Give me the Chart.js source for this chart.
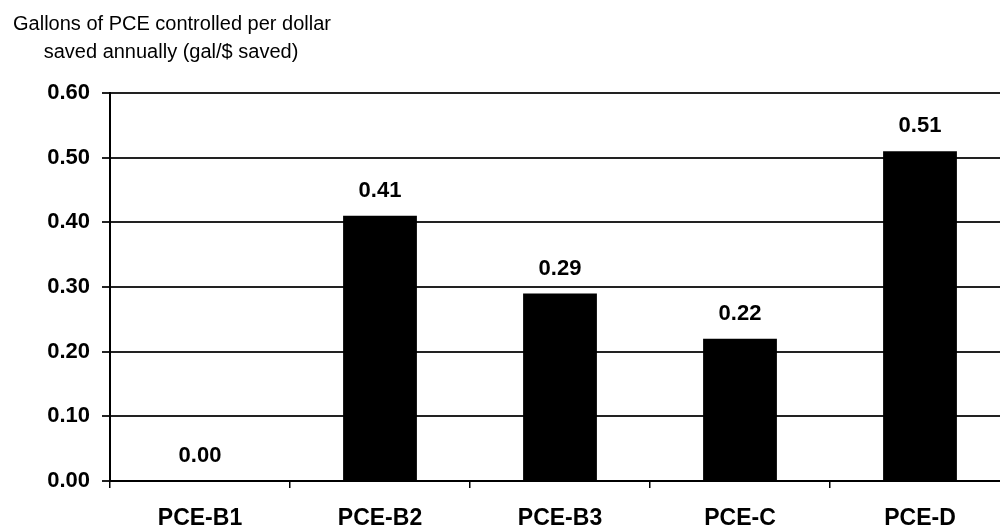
<!DOCTYPE html>
<html>
<head>
<meta charset="utf-8">
<script src="https://cdn.jsdelivr.net/npm/chart.js@4.4.1/dist/chart.umd.min.js"></script>
<style>
  html, body { margin: 0; padding: 0; background: #fff; overflow: hidden; }
  #wrap { width: 1000px; height: 529px; overflow: hidden; position: relative; }
  #box { width: 1010px; height: 529px; position: absolute; left: 0; top: 0; }
</style>
</head>
<body>
<div id="wrap"><div id="box"><canvas id="c"></canvas></div></div>
<script>
// Gallons of PCE controlled per dollar saved, by option
const categories = ['PCE-B1', 'PCE-B2', 'PCE-B3', 'PCE-C', 'PCE-D'];
const gallonsPerDollar = [0.00, 0.41, 0.29, 0.22, 0.51];
const yTicks = [0.00, 0.10, 0.20, 0.30, 0.40, 0.50, 0.60];
const titleLines = ['Gallons of PCE controlled per dollar', 'saved annually (gal/$ saved)'];

const FONT = '"Liberation Sans", Arial, Helvetica, sans-serif';

// Two-line axis caption at the top-left
const captionPlugin = {
  id: 'caption',
  afterDraw(chart) {
    const ctx = chart.ctx;
    ctx.save();
    ctx.fillStyle = '#000';
    ctx.font = '20px ' + FONT;
    ctx.textAlign = 'center';
    ctx.textBaseline = 'alphabetic';
    ctx.fillText(titleLines[0], 172, 30);
    ctx.fillText(titleLines[1], 171, 58);
    ctx.restore();
  }
};

// Value labels above each bar
const valueLabelPlugin = {
  id: 'valueLabels',
  afterDatasetsDraw(chart) {
    const ctx = chart.ctx;
    const meta = chart.getDatasetMeta(0);
    ctx.save();
    ctx.fillStyle = '#000';
    ctx.font = 'bold 22px ' + FONT;
    ctx.textAlign = 'center';
    ctx.textBaseline = 'middle';
    meta.data.forEach((bar, i) => {
      ctx.fillText(gallonsPerDollar[i].toFixed(2), bar.x, bar.y - 25);
    });
    ctx.restore();
  }
};

new Chart(document.getElementById('c'), {
  type: 'bar',
  data: {
    labels: categories,
    datasets: [{
      data: gallonsPerDollar,
      backgroundColor: '#000',
      borderWidth: 0,
      categoryPercentage: 1.0,
      barPercentage: 0.41
    }]
  },
  options: {
    responsive: true,
    maintainAspectRatio: false,
    animation: false,
    layout: { padding: { top: 93, right: 0, bottom: 0, left: 0 } },
    plugins: {
      legend: { display: false },
      tooltip: { enabled: false },
      title: { display: false }
    },
    scales: {
      x: {
        offset: true,
        grid: {
          offset: true,
          drawOnChartArea: false,
          drawTicks: true,
          tickLength: 7,
          color: '#000',
          lineWidth: 1.5
        },
        border: { display: true, color: '#000', width: 2 },
        ticks: {
          color: '#000',
          font: { family: FONT, size: 23, weight: 'bold' },
          padding: 17,
          maxRotation: 0
        },
        afterFit(scale) { scale.height = 48; }
      },
      y: {
        min: 0,
        max: 0.6,
        afterBuildTicks(scale) {
          scale.ticks = yTicks.map(v => ({ value: v }));
        },
        grid: {
          color: '#222',
          lineWidth: 2,
          drawTicks: true,
          tickLength: 8
        },
        border: { display: true, color: '#000', width: 2 },
        ticks: {
          color: '#000',
          font: { family: FONT, size: 22, weight: 'bold' },
          padding: 12,
          callback: v => Number(v).toFixed(2)
        },
        afterFit(scale) { scale.width = 110; }
      }
    }
  },
  plugins: [captionPlugin, valueLabelPlugin]
});
</script>
</body>
</html>
